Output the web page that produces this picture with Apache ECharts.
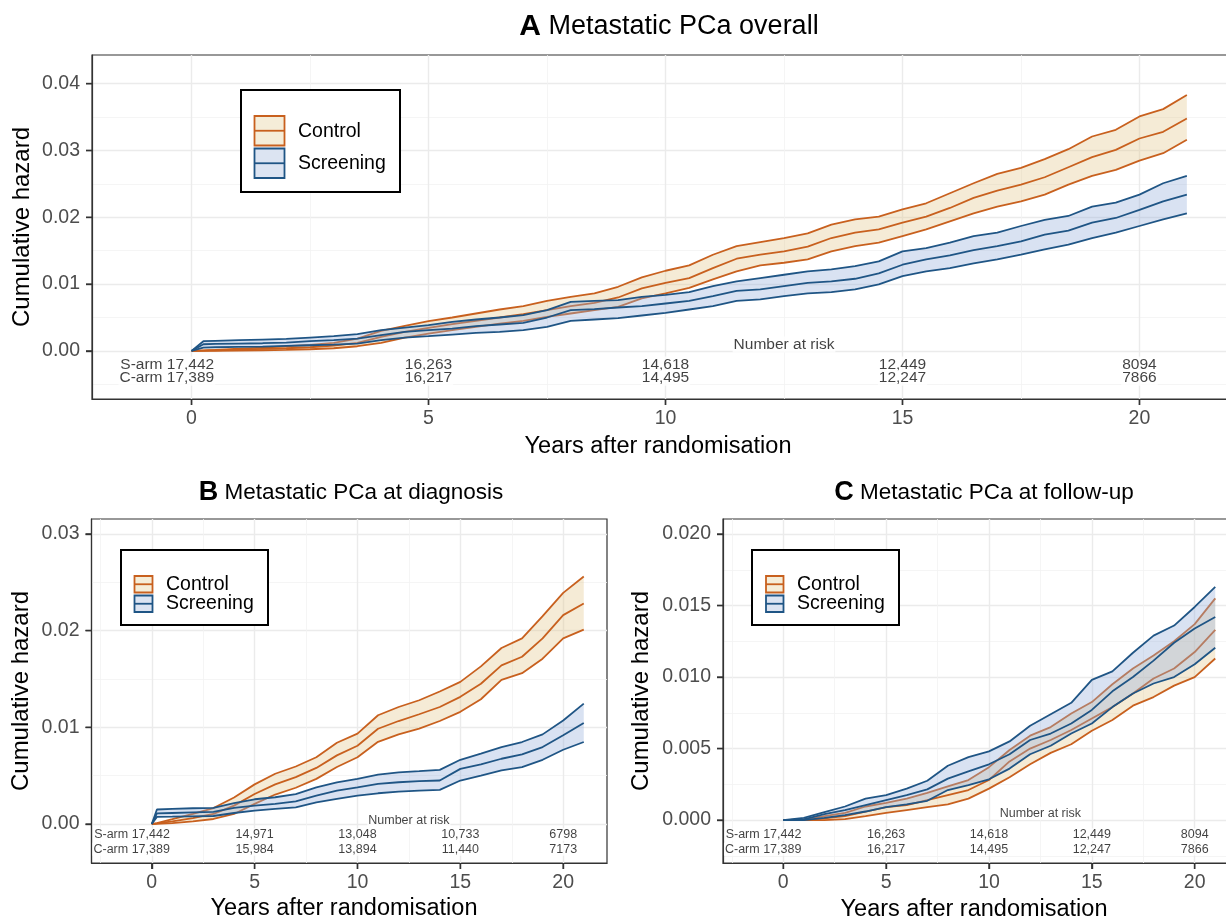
<!DOCTYPE html>
<html>
<head>
<meta charset="utf-8">
<script src="https://cdn.jsdelivr.net/npm/echarts@6.0.0/dist/echarts.min.js"></script>
<style>
html,body{margin:0;padding:0;background:#fff;}
#chart{width:1226px;height:919px;}
</style>
</head>
<body>
<div id="chart"></div>
<script>
// ---------------- DATA ----------------
// Panel A: Metastatic PCa overall
const yearsA = [0,0.25,0.5,1,1.5,2,2.5,3,3.5,4,4.5,5,5.5,6,6.5,7,7.5,8,8.5,9,9.5,10,10.5,11,11.5,12,12.5,13,13.5,14,14.5,15,15.5,16,16.5,17,17.5,18,18.5,19,19.5,20,20.5,21];
const aCtrlHi  = [0,0.00008,0.00015,0.00035,0.0005,0.0007,0.0009,0.0012,0.00185,0.003,0.00375,0.00445,0.005,0.0056,0.0062,0.0067,0.0075,0.0081,0.0086,0.0096,0.011,0.012,0.0128,0.0144,0.0157,0.0163,0.0169,0.0176,0.0189,0.0197,0.0201,0.0212,0.0221,0.0236,0.0251,0.0265,0.0274,0.0287,0.0302,0.0321,0.0331,0.0351,0.0362,0.0383];
const aCtrlMid = [0,0.00005,0.0001,0.0002,0.0003,0.0004,0.00055,0.0008,0.0012,0.0021,0.00285,0.00345,0.004,0.0045,0.005,0.0055,0.0061,0.0067,0.0072,0.008,0.00935,0.0102,0.0109,0.0124,0.0138,0.0144,0.0149,0.0156,0.0169,0.0177,0.0182,0.0192,0.0201,0.0214,0.0229,0.024,0.0249,0.026,0.0275,0.029,0.0301,0.0318,0.0328,0.0348];
const aCtrlLo  = [0,0.00001,0.00002,0.00005,0.0001,0.00015,0.00025,0.0004,0.0007,0.0012,0.002,0.0026,0.0031,0.0036,0.0041,0.0045,0.0051,0.0056,0.0061,0.0066,0.00785,0.0086,0.00945,0.0107,0.0119,0.0128,0.0132,0.0137,0.0149,0.0157,0.0162,0.0172,0.0182,0.0194,0.0206,0.0216,0.0224,0.0234,0.0249,0.0262,0.0271,0.0285,0.0296,0.0316];
const aScrHi   = [0,0.00145,0.0015,0.0016,0.0017,0.0018,0.002,0.0022,0.0025,0.0031,0.0035,0.00385,0.00435,0.0047,0.005,0.00535,0.0061,0.00735,0.0075,0.0076,0.0081,0.0084,0.0088,0.0097,0.0104,0.0109,0.0114,0.0119,0.0122,0.0127,0.0134,0.0149,0.0154,0.0162,0.0172,0.0177,0.0187,0.0196,0.0202,0.0216,0.0222,0.0234,0.0251,0.0262];
const aScrMid  = [0,0.001,0.00105,0.0011,0.00115,0.00125,0.00145,0.0016,0.00185,0.00235,0.00285,0.0031,0.00335,0.0037,0.00395,0.0042,0.005,0.0061,0.00625,0.0065,0.0067,0.0071,0.0075,0.0082,0.009,0.0092,0.0097,0.0102,0.0104,0.0108,0.0116,0.0129,0.0137,0.0143,0.0151,0.0157,0.0164,0.0174,0.018,0.0192,0.0199,0.0211,0.0224,0.0234];
const aScrLo   = [0,0.0005,0.00055,0.0006,0.00065,0.00075,0.00085,0.00095,0.0011,0.0016,0.002,0.0022,0.00245,0.0027,0.00285,0.0031,0.0036,0.0045,0.0047,0.0049,0.0053,0.0057,0.0062,0.0067,0.0075,0.0077,0.0082,0.0086,0.0088,0.0092,0.00995,0.0112,0.0119,0.0124,0.0131,0.0137,0.0144,0.0152,0.0159,0.0169,0.0177,0.0187,0.0197,0.0206];

// Panel B: Metastatic PCa at diagnosis
const yearsB = [0,0.25,1,2,3,4,5,6,7,8,9,10,11,12,13,14,15,16,17,18,19,20,21];
const bCtrlHi  = [0,0.0001,0.0005,0.00105,0.00165,0.00275,0.0041,0.0052,0.00595,0.0069,0.0084,0.00935,0.01125,0.0121,0.0128,0.0137,0.0147,0.0163,0.0182,0.0192,0.0215,0.0239,0.0256];
const bCtrlMid = [0,0.00006,0.00028,0.00062,0.00104,0.0019,0.0031,0.0041,0.00485,0.0058,0.0071,0.0081,0.00985,0.01065,0.01135,0.0121,0.01315,0.0145,0.0164,0.0173,0.0192,0.0216,0.0228];
const bCtrlLo  = [0,0.00002,0.0001,0.00028,0.00052,0.00104,0.00208,0.00305,0.00375,0.00467,0.0059,0.0069,0.0085,0.00927,0.00986,0.01065,0.0116,0.0129,0.0149,0.0156,0.0171,0.0192,0.0201];
const bScrHi   = [0,0.0015,0.00156,0.00163,0.00166,0.00215,0.00256,0.00277,0.0031,0.0038,0.0043,0.00467,0.0051,0.00535,0.00547,0.0056,0.00664,0.00727,0.00796,0.00848,0.00927,0.0107,0.01245];
const bScrMid  = [0,0.0011,0.00114,0.0012,0.00125,0.00166,0.0019,0.00208,0.00235,0.00294,0.00346,0.0038,0.00415,0.00432,0.00443,0.0045,0.0057,0.00616,0.00675,0.0072,0.00796,0.00917,0.01045];
const bScrLo   = [0,0.00074,0.00076,0.0008,0.00083,0.00114,0.00138,0.00156,0.00173,0.00225,0.0026,0.00294,0.00318,0.00336,0.00346,0.00353,0.0045,0.005,0.00554,0.00588,0.00664,0.00768,0.00848];

// Panel C: Metastatic PCa at follow-up
const yearsC = [0,1,2,3,4,5,6,7,8,9,10,11,12,13,14,15,16,17,18,19,20,21];
const cCtrlHi  = [0,0.00005,0.00028,0.0005,0.00095,0.0012,0.0015,0.0019,0.00235,0.0028,0.0037,0.0049,0.0059,0.0065,0.00745,0.00825,0.0095,0.0106,0.0115,0.0125,0.0137,0.0155];
const cCtrlMid = [0,0,0.00012,0.00028,0.0006,0.0009,0.00105,0.0014,0.00175,0.0021,0.0028,0.0041,0.005,0.0056,0.0063,0.0071,0.0079,0.00885,0.0099,0.0106,0.01175,0.0133];
const cCtrlLo  = [0,0,0,0.00007,0.00028,0.0005,0.0007,0.0009,0.0011,0.0015,0.0022,0.003,0.0039,0.0047,0.0053,0.00625,0.007,0.008,0.0086,0.0094,0.01,0.0113];
const cScrHi   = [0,0.00015,0.00055,0.00095,0.0015,0.00175,0.0022,0.00275,0.0038,0.0044,0.0048,0.0055,0.0066,0.0074,0.0082,0.0098,0.0104,0.0117,0.0129,0.0136,0.0149,0.0163];
const cScrMid  = [0,0.00005,0.00042,0.0007,0.00105,0.0014,0.00175,0.00215,0.0029,0.0034,0.0039,0.0046,0.0056,0.00605,0.00675,0.0077,0.009,0.01,0.01115,0.0124,0.0134,0.0142];
const cScrLo   = [0,0,0.00015,0.00035,0.0006,0.0009,0.0011,0.00135,0.0021,0.00245,0.00285,0.0036,0.0046,0.0052,0.00605,0.00675,0.0079,0.00885,0.00955,0.01,0.0109,0.01205];

// Number at risk
const riskTimes = [0,5,10,15,20];
const riskA_S = ['17,442','16,263','14,618','12,449','8094'];
const riskA_C = ['17,389','16,217','14,495','12,247','7866'];
const riskB_S = ['17,442','14,971','13,048','10,733','6798'];
const riskB_C = ['17,389','15,984','13,894','11,440','7173'];
const riskC_S = ['17,442','16,263','14,618','12,449','8094'];
const riskC_C = ['17,389','16,217','14,495','12,247','7866'];

// Tick labels
const xTicks = [0,5,10,15,20];
const xMinorA = [2.5,7.5,12.5,17.5];
const xMinorBC = [-2.5,2.5,7.5,12.5,17.5];
const yTicksA = [0,0.01,0.02,0.03,0.04];
const yMinorA = [-0.005,0.005,0.015,0.025,0.035];
const yTicksB = [0,0.01,0.02,0.03];
const yMinorB = [0.005,0.015,0.025];
const yTicksC = [0,0.005,0.01,0.015,0.02];
const yMinorC = [-0.0025,0.0025,0.0075,0.0125,0.0175];

const titles = ['Metastatic PCa overall','Metastatic PCa at diagnosis','Metastatic PCa at follow-up'];
const letters = ['A','B','C'];
const legendNames = ['Control','Screening'];

// ---------------- STYLE ----------------
const FONT = '"Liberation Sans", Arial, Helvetica, sans-serif';
const CTRL_LINE = '#C8601E', SCR_LINE = '#1F5585';
const CTRL_FILL = 'rgba(226,200,140,0.36)', SCR_FILL = 'rgba(150,175,220,0.36)';
const CTRL_KEY = '#F5EDD8', SCR_KEY = '#DCE4F2';
const TICK_LEN = 6;

const panels = [
  {grid:{left:92, top:55, width:1147, height:344}, xMin:-2.1, xMax:22.1, yMin:-0.0072, yMax:0.0443,
   years:yearsA, ctrl:[aCtrlLo,aCtrlMid,aCtrlHi], scr:[aScrLo,aScrMid,aScrHi],
   xMinor:xMinorA, yMajor:yTicksA, yMinor:yMinorA, digits:2,
   riskFont:15.5, riskY:[0.00097,-0.00202,-0.004], rS:riskA_S, rC:riskA_C},
  {grid:{left:91.5, top:519, width:515.5, height:344}, xMin:-2.93, xMax:22.13, yMin:-0.00403, yMax:0.03154,
   years:yearsB, ctrl:[bCtrlLo,bCtrlMid,bCtrlHi], scr:[bScrLo,bScrMid,bScrHi],
   xMinor:xMinorBC, yMajor:yTicksB, yMinor:yMinorB, digits:2,
   riskFont:12.5, riskY:[0.0004,-0.0011,-0.0026], rS:riskB_S, rC:riskB_C},
  {grid:{left:723, top:519, width:515.5, height:344}, xMin:-2.93, xMax:22.13, yMin:-0.003, yMax:0.02105,
   years:yearsC, ctrl:[cCtrlLo,cCtrlMid,cCtrlHi], scr:[cScrLo,cScrMid,cScrHi],
   xMinor:xMinorBC, yMajor:yTicksC, yMinor:yMinorC, digits:3,
   riskFont:12.5, riskY:[0.00047,-0.00103,-0.00203], rS:riskC_S, rC:riskC_C}
];

const grids = [], xAxes = [], yAxes = [], series = [];

panels.forEach((P, p) => {
  grids.push(Object.assign({show:true, borderColor:'#333333', borderWidth:1.2, backgroundColor:'#fff',
    containLabel:false, outerBoundsMode:'none'}, P.grid));
  xAxes.push({type:'value', gridIndex:p, min:P.xMin, max:P.xMax, position:'bottom',
    axisLine:{show:true, onZero:false, lineStyle:{color:'#333333', width:1.2}},
    axisTick:{show:true, inside:false, length:TICK_LEN, lineStyle:{color:'#333333', width:1.4}, customValues:xTicks},
    axisLabel:{customValues:xTicks, color:'#4D4D4D', fontSize:19.5, fontFamily:FONT, margin:10},
    splitLine:{show:true, lineStyle:{color:'#EBEBEB', width:1.4}}});
  xAxes.push({type:'value', gridIndex:p, min:P.xMin, max:P.xMax, position:'top',
    axisLine:{show:false, onZero:false}, axisTick:{show:false, customValues:P.xMinor}, axisLabel:{show:false},
    splitLine:{show:true, lineStyle:{color:'#F2F2F2', width:0.8}}});
  yAxes.push({type:'value', gridIndex:p, min:P.yMin, max:P.yMax, position:'left',
    axisLine:{show:true, onZero:false, lineStyle:{color:'#333333', width:1.2}},
    axisTick:{show:true, inside:false, length:TICK_LEN, lineStyle:{color:'#333333', width:1.4}, customValues:P.yMajor},
    axisLabel:{customValues:P.yMajor, color:'#4D4D4D', fontSize:19.5, fontFamily:FONT, margin:12,
      formatter:(v)=>Number(v).toFixed(P.digits)},
    splitLine:{show:true, lineStyle:{color:'#EBEBEB', width:1.4}}});
  yAxes.push({type:'value', gridIndex:p, min:P.yMin, max:P.yMax, position:'right',
    axisLine:{show:false, onZero:false}, axisTick:{show:false, customValues:P.yMinor}, axisLabel:{show:false},
    splitLine:{show:true, lineStyle:{color:'#F2F2F2', width:0.8}}});

  const xi = 2*p, yi = 2*p;
  const band = (lo, hi, fill, z) => ({
    type:'custom', xAxisIndex:xi, yAxisIndex:yi, z:z, silent:true, data:[[0,0]],
    renderItem:(params, api) => {
      const pts = [];
      for (let i=0;i<P.years.length;i++) pts.push(api.coord([P.years[i], hi[i]]));
      for (let i=P.years.length-1;i>=0;i--) pts.push(api.coord([P.years[i], lo[i]]));
      return {type:'polygon', shape:{points:pts}, style:{fill:fill, stroke:null}};
    }
  });
  const line = (arr, color, z) => ({
    type:'line', xAxisIndex:xi, yAxisIndex:yi, z:z, silent:true, symbol:'none', showSymbol:false,
    data:P.years.map((x,i)=>[x, arr[i]]), lineStyle:{color:color, width:1.8}
  });
  series.push(band(P.ctrl[0], P.ctrl[2], CTRL_FILL, 2));
  P.ctrl.forEach(a => series.push(line(a, CTRL_LINE, 3)));
  series.push(band(P.scr[0], P.scr[2], SCR_FILL, 4));
  P.scr.forEach(a => series.push(line(a, SCR_LINE, 5)));

  // outward axis tick marks, positioned through the axes' own scales
  series.push({type:'custom', xAxisIndex:xi, yAxisIndex:yi, z:7, silent:true, clip:false, data:[[0,0]],
    renderItem:(params, api) => {
      const children = [];
      xTicks.forEach(t => {
        const c = api.coord([t, P.yMin]);
        children.push({type:'line', shape:{x1:c[0], y1:c[1], x2:c[0], y2:c[1] + TICK_LEN},
          style:{stroke:'#333333', lineWidth:1.4}});
      });
      P.yMajor.forEach(v => {
        const c = api.coord([P.xMin, v]);
        children.push({type:'line', shape:{x1:c[0] - TICK_LEN, y1:c[1], x2:c[0], y2:c[1]},
          style:{stroke:'#333333', lineWidth:1.4}});
      });
      return {type:'group', children:children};
    }});

  // number at risk labels
  const half = 1.529 * P.riskFont;
  const items = [{value:[12.5, P.riskY[0]], txt:'Number at risk'}];
  riskTimes.forEach((t, i) => {
    const first = i === 0;
    items.push({value:[t, P.riskY[1]], txt:(first ? 'S-arm ' : '') + P.rS[i],
      label: first ? {align:'right', offset:[half,0]} : undefined});
    items.push({value:[t, P.riskY[2]], txt:(first ? 'C-arm ' : '') + P.rC[i],
      label: first ? {align:'right', offset:[half,0]} : undefined});
  });
  series.push({type:'scatter', xAxisIndex:xi, yAxisIndex:yi, z:6, silent:true, symbolSize:0,
    data:items.map(o => { const d = {value:o.value, txt:o.txt}; if (o.label) d.label = o.label; return d; }),
    label:{show:true, position:'inside', formatter:(pr)=>pr.data.txt, color:'#111',
      fontSize:P.riskFont, fontFamily:FONT, backgroundColor:'#fff', padding:[0,1]}});
});

// ---------------- GRAPHIC TEXT / LEGENDS ----------------
const graphic = [];
const titlePos = [{x:669, y:27, fs:27, bfs:30}, {x:351, y:493, fs:22.5, bfs:27}, {x:984, y:493, fs:22.5, bfs:27}];
titlePos.forEach((t, i) => {
  graphic.push({type:'text', x:t.x, y:t.y, z:100, style:{
    text:'{b|' + letters[i] + '} ' + titles[i], fontSize:t.fs, fontFamily:FONT, fill:'#000',
    align:'center', verticalAlign:'middle',
    rich:{b:{fontSize:t.bfs, fontWeight:'bold', fontFamily:FONT, fill:'#000'}}}});
});
[{x:658, y:447}, {x:344, y:909}, {x:974, y:910}].forEach(pos => {
  graphic.push({type:'text', x:pos.x, y:pos.y, z:100, style:{text:'Years after randomisation',
    fontSize:23.5, fontFamily:FONT, fill:'#000', align:'center', verticalAlign:'middle'}});
});
[{x:22, y:227}, {x:21.5, y:691}, {x:641, y:691}].forEach(pos => {
  graphic.push({type:'text', x:pos.x, y:pos.y, rotation:Math.PI/2, z:100, style:{text:'Cumulative hazard',
    fontSize:24, fontFamily:FONT, fill:'#000', align:'center', verticalAlign:'middle'}});
});
const legends = [
  {box:[241,90,159,102], kx:254.5, kw:30, ky:[116,148.5], kh:29.5, tx:298, ty:[132,164]},
  {box:[121,550,147,75], kx:134.5, kw:18, ky:[576,595.5], kh:16.5, tx:166, ty:[585,604]},
  {box:[752,550,147,75], kx:766, kw:17.5, ky:[576,595.5], kh:16.5, tx:797, ty:[585,604]}
];
legends.forEach(L => {
  graphic.push({type:'rect', z:100, shape:{x:L.box[0], y:L.box[1], width:L.box[2], height:L.box[3]},
    style:{fill:'#fff', stroke:'#000', lineWidth:2}});
  [[CTRL_KEY, CTRL_LINE],[SCR_KEY, SCR_LINE]].forEach((c, k) => {
    graphic.push({type:'rect', z:101, shape:{x:L.kx, y:L.ky[k], width:L.kw, height:L.kh},
      style:{fill:c[0], stroke:c[1], lineWidth:1.8}});
    graphic.push({type:'line', z:102, shape:{x1:L.kx, y1:L.ky[k]+L.kh/2, x2:L.kx+L.kw, y2:L.ky[k]+L.kh/2},
      style:{stroke:c[1], lineWidth:1.8}});
    graphic.push({type:'text', z:102, x:L.tx, y:L.ty[k], style:{text:legendNames[k], fontSize:19.5,
      fontFamily:FONT, fill:'#000', align:'left', verticalAlign:'middle'}});
  });
});

const chart = echarts.init(document.getElementById('chart'), null, {renderer:'canvas'});
chart.setOption({
  animation:false,
  backgroundColor:'#fff',
  textStyle:{fontFamily:FONT},
  grid:grids, xAxis:xAxes, yAxis:yAxes, series:series, graphic:graphic
});
</script>
</body>
</html>
